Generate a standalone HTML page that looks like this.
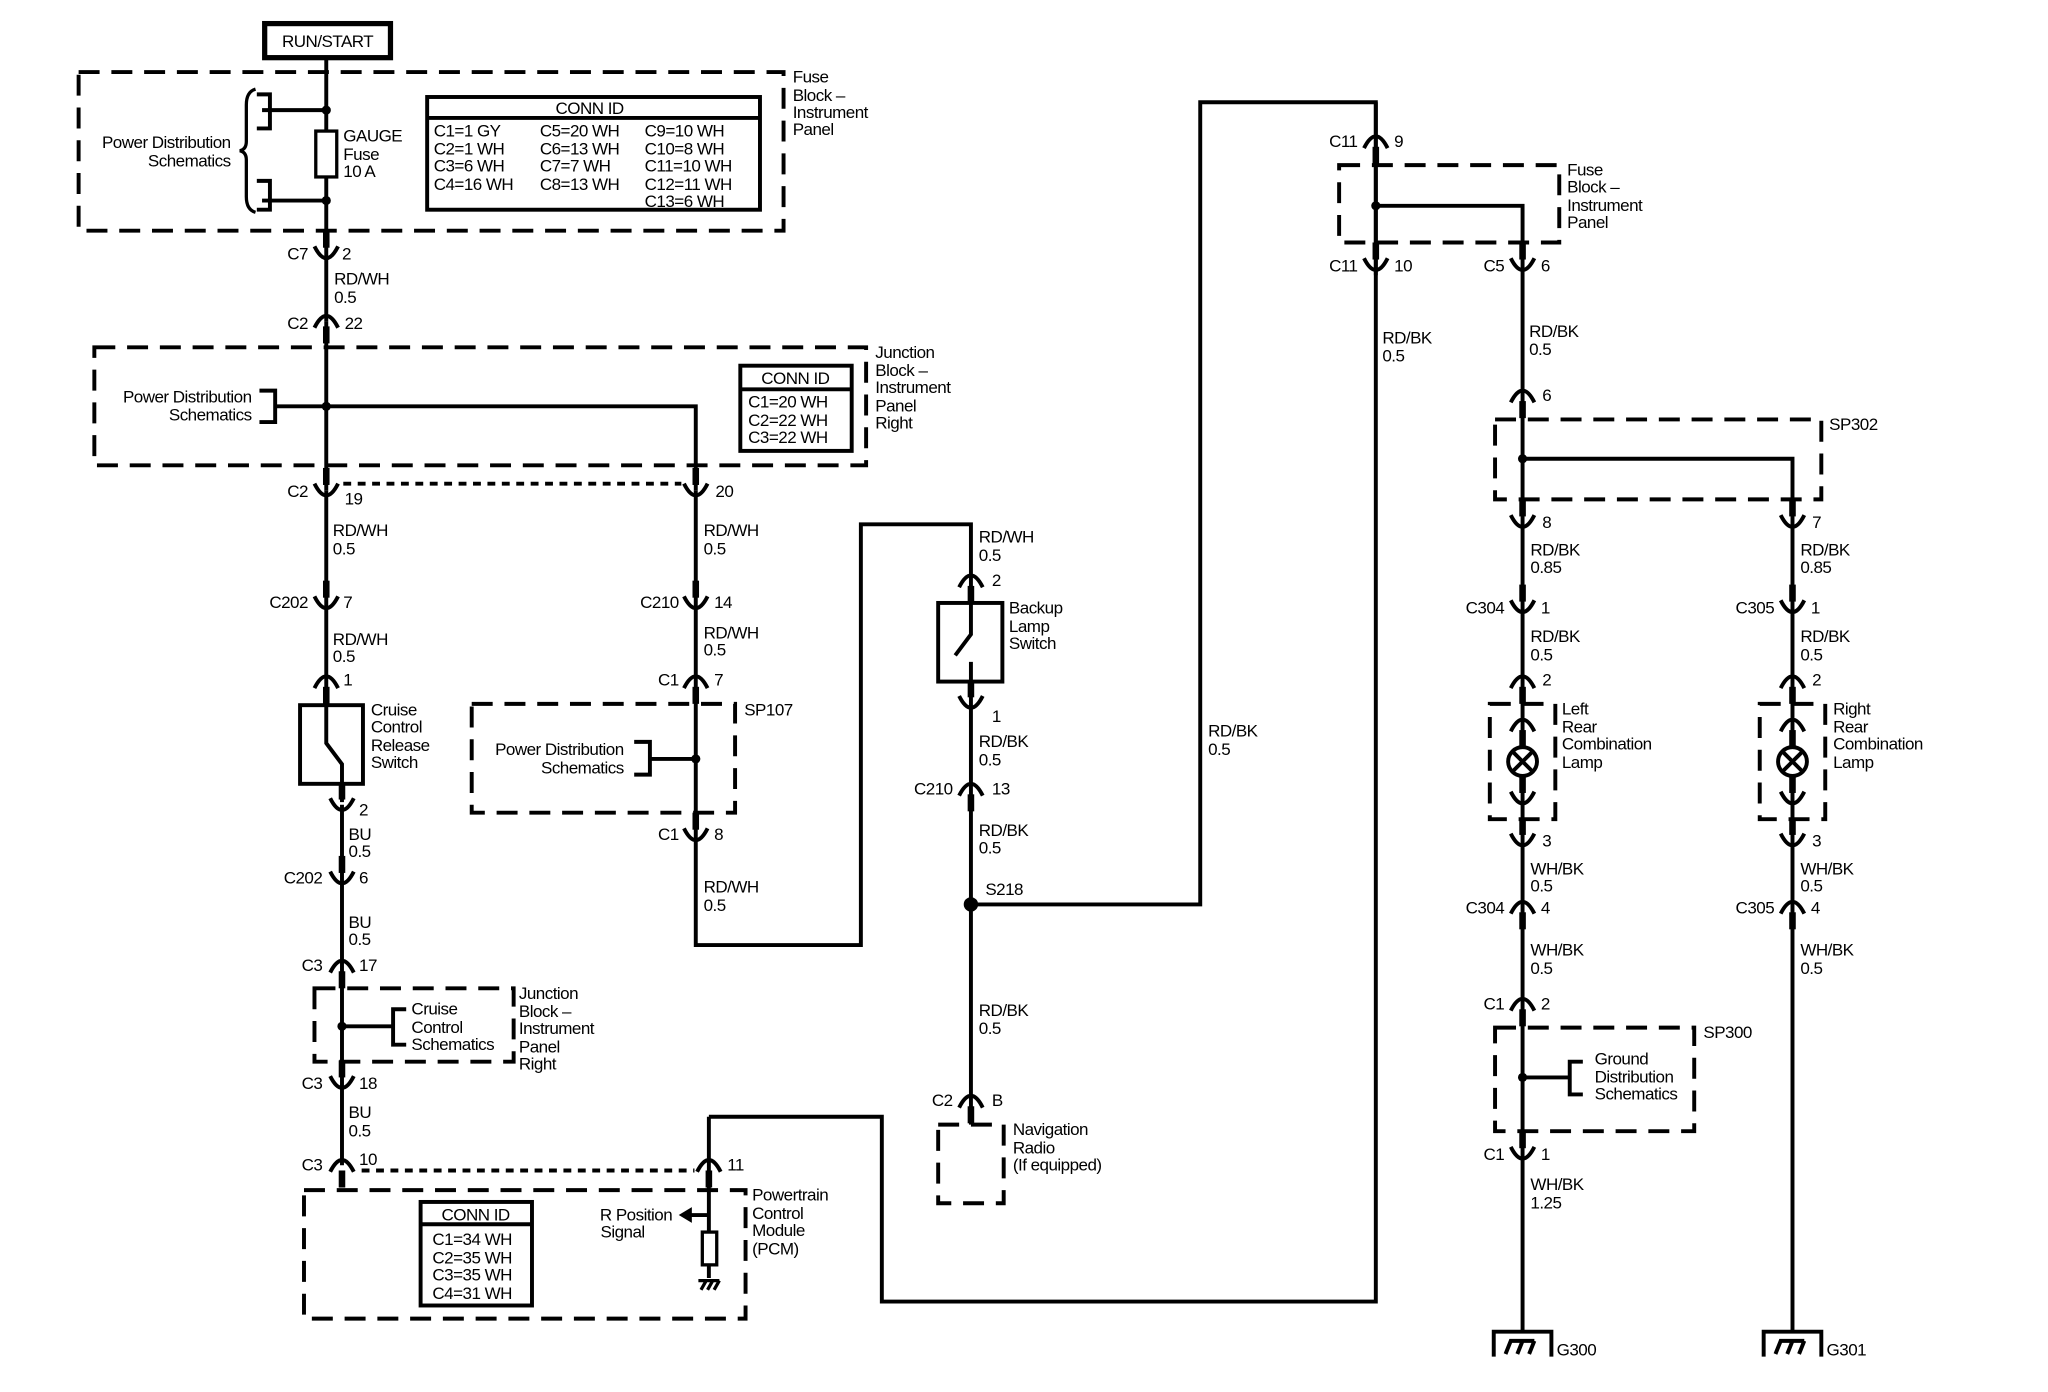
<!DOCTYPE html>
<html><head><meta charset="utf-8"><style>
html,body{margin:0;padding:0;background:#fff;}
svg{display:block;}
text{font-family:"Liberation Sans",Arial,sans-serif;font-size:13px;fill:#000;letter-spacing:-0.4px;}
.w{stroke:#000;stroke-width:3;fill:none;}
.d{stroke:#000;stroke-width:3;fill:none;stroke-dasharray:16 9;}
.th{stroke:#000;stroke-width:2.5;fill:none;}
</style></head><body>
<svg width="2048" height="1392" viewBox="0 0 1563 1062" preserveAspectRatio="none" xmlns="http://www.w3.org/2000/svg">
<defs>
<g id="U"><path d="M-9,-5 Q0,13 9,-5" stroke="#000" stroke-width="3" fill="none"/><rect x="-2.5" y="-17" width="5" height="13"/></g>
<g id="A"><path d="M-9,5 Q0,-13 9,5" stroke="#000" stroke-width="3" fill="none"/><rect x="-2.5" y="4" width="5" height="13"/></g>
</defs>

<!-- RUN/START -->
<rect x="202" y="18" width="96" height="26" fill="#fff" stroke="#000" stroke-width="4"/>
<text x="250" y="36" text-anchor="middle">RUN/START</text>

<!-- Fuse block top -->
<rect class="d" x="60" y="55" width="538" height="121"/>
<text x="605" y="63">Fuse</text><text x="605" y="77">Block –</text><text x="605" y="90">Instrument</text><text x="605" y="103">Panel</text>
<line class="w" x1="249" y1="44" x2="249" y2="100"/>
<line class="w" x1="249" y1="135" x2="249" y2="245"/>
<rect x="241" y="100" width="16" height="35" class="th"/>
<circle cx="249" cy="84" r="3.5"/><circle cx="249" cy="153" r="3.5"/>
<line class="w" x1="200" y1="84" x2="249" y2="84"/><line class="w" x1="200" y1="153" x2="249" y2="153"/>
<path class="w" d="M196,72 H206 V98 H196"/><path class="w" d="M196,138 H206 V160 H196"/>
<path class="th" d="M195,68 Q188,70 188,80 V108 Q188,114 183,115 Q188,116 188,122 V150 Q188,160 195,162"/>
<text x="176" y="113" text-anchor="end">Power Distribution</text><text x="176" y="127" text-anchor="end">Schematics</text>
<text x="262" y="108">GAUGE</text><text x="262" y="122">Fuse</text><text x="262" y="135">10 A</text>
<rect class="w" x="326" y="74" width="254" height="86"/><line class="w" x1="326" y1="90" x2="580" y2="90"/>
<text x="450" y="87" text-anchor="middle">CONN ID</text>
<text x="331" y="104">C1=1 GY</text><text x="331" y="118">C2=1 WH</text><text x="331" y="131">C3=6 WH</text><text x="331" y="145">C4=16 WH</text>
<text x="412" y="104">C5=20 WH</text><text x="412" y="118">C6=13 WH</text><text x="412" y="131">C7=7 WH</text><text x="412" y="145">C8=13 WH</text>
<text x="492" y="104">C9=10 WH</text><text x="492" y="118">C10=8 WH</text><text x="492" y="131">C11=10 WH</text><text x="492" y="145">C12=11 WH</text><text x="492" y="158">C13=6 WH</text>

<use href="#U" x="249" y="193"/><text x="235" y="198" text-anchor="end">C7</text><text x="261" y="198">2</text>
<text x="255" y="217">RD/WH</text><text x="255" y="231">0.5</text>
<use href="#A" x="249" y="245"/><text x="235" y="251" text-anchor="end">C2</text><text x="263" y="251">22</text>

<!-- Junction block -->
<rect class="d" x="72" y="265" width="589" height="90"/>
<text x="668" y="273">Junction</text><text x="668" y="287">Block –</text><text x="668" y="300">Instrument</text><text x="668" y="314">Panel</text><text x="668" y="327">Right</text>
<line class="w" x1="249" y1="245" x2="249" y2="374"/>
<text x="192" y="307" text-anchor="end">Power Distribution</text><text x="192" y="321" text-anchor="end">Schematics</text>
<path class="w" d="M198,298 H210 V322 H198"/>
<path class="w" d="M210,310 H531 V374"/>
<circle cx="249" cy="310" r="3.5"/>
<rect class="w" x="565" y="279" width="85" height="65"/><line class="w" x1="565" y1="297" x2="650" y2="297"/>
<text x="607" y="293" text-anchor="middle">CONN ID</text>
<text x="571" y="311">C1=20 WH</text><text x="571" y="325">C2=22 WH</text><text x="571" y="338">C3=22 WH</text>

<use href="#U" x="249" y="374"/><use href="#U" x="531" y="374"/>
<line x1="262" y1="369" x2="520" y2="369" stroke="#000" stroke-width="3" stroke-dasharray="6 5"/>
<text x="235" y="379" text-anchor="end">C2</text><text x="263" y="385">19</text><text x="546" y="379">20</text>

<!-- left column -->
<line class="w" x1="249" y1="374" x2="249" y2="538"/>
<text x="254" y="409">RD/WH</text><text x="254" y="423">0.5</text>
<use href="#U" x="249" y="460"/><text x="235" y="464" text-anchor="end">C202</text><text x="262" y="464">7</text>
<text x="254" y="492">RD/WH</text><text x="254" y="505">0.5</text>
<use href="#A" x="249" y="520"/><text x="262" y="523">1</text>
<rect class="w" x="229" y="538" width="48" height="60"/>
<path class="w" d="M249,538 V567 L261,583 V612"/>
<text x="283" y="546">Cruise</text><text x="283" y="559">Control</text><text x="283" y="573">Release</text><text x="283" y="586">Switch</text>
<use href="#U" x="261" y="614"/><text x="274" y="622">2</text>
<line class="w" x1="261" y1="614" x2="261" y2="889"/>
<text x="266" y="641">BU</text><text x="266" y="654">0.5</text>
<use href="#U" x="261" y="670"/><text x="246" y="674" text-anchor="end">C202</text><text x="274" y="674">6</text>
<text x="266" y="708">BU</text><text x="266" y="721">0.5</text>
<use href="#A" x="261" y="737"/><text x="246" y="741" text-anchor="end">C3</text><text x="274" y="741">17</text>
<rect class="d" x="240" y="754" width="152" height="56"/>
<circle cx="261" cy="783" r="3.5"/>
<path class="w" d="M261,783 H300"/><path class="w" d="M310,770 H300 V797 H310"/>
<text x="314" y="774">Cruise</text><text x="314" y="788">Control</text><text x="314" y="801">Schematics</text>
<text x="396" y="762">Junction</text><text x="396" y="776">Block –</text><text x="396" y="789">Instrument</text><text x="396" y="803">Panel</text><text x="396" y="816">Right</text>
<use href="#U" x="261" y="826"/><text x="246" y="831" text-anchor="end">C3</text><text x="274" y="831">18</text>
<text x="266" y="853">BU</text><text x="266" y="867">0.5</text>
<use href="#A" x="261" y="889"/><text x="246" y="893" text-anchor="end">C3</text><text x="274" y="889">10</text>
<line x1="276" y1="893" x2="530" y2="893" stroke="#000" stroke-width="3" stroke-dasharray="6 5"/>

<!-- PCM -->
<rect class="d" x="232" y="908" width="337" height="98"/>
<text x="574" y="916">Powertrain</text><text x="574" y="930">Control</text><text x="574" y="943">Module</text><text x="574" y="957">(PCM)</text>
<rect class="w" x="321" y="917" width="85" height="79"/><line class="w" x1="321" y1="934" x2="406" y2="934"/>
<text x="363" y="931" text-anchor="middle">CONN ID</text>
<text x="330" y="950">C1=34 WH</text><text x="330" y="964">C2=35 WH</text><text x="330" y="977">C3=35 WH</text><text x="330" y="991">C4=31 WH</text>
<use href="#A" x="541" y="889"/><text x="555" y="893">11</text>
<path class="w" d="M541,852 V975"/>
<rect x="536" y="940" width="11" height="25" fill="#fff" stroke="#000" stroke-width="2.5"/>
<path class="th" d="M533,977 H549 M535,984 L539,977 M540,984 L544,977 M545,984 L549,977"/>
<line class="w" x1="541" y1="927" x2="526" y2="927"/><path d="M518,927 L528,921 L528,933 Z"/>
<text x="513" y="931" text-anchor="end">R Position</text><text x="492" y="944" text-anchor="end">Signal</text>
<path class="w" d="M541,852 H673 V993 H1050 V78 H916 V690 H741"/>

<!-- middle column 531 -->
<line class="w" x1="531" y1="374" x2="531" y2="637"/>
<text x="537" y="409">RD/WH</text><text x="537" y="423">0.5</text>
<use href="#U" x="531" y="460"/><text x="518" y="464" text-anchor="end">C210</text><text x="545" y="464">14</text>
<text x="537" y="487">RD/WH</text><text x="537" y="500">0.5</text>
<use href="#A" x="531" y="520"/><text x="518" y="523" text-anchor="end">C1</text><text x="545" y="523">7</text>
<rect class="d" x="360" y="537" width="201" height="83"/>
<text x="568" y="546">SP107</text>
<circle cx="531" cy="579" r="3.5"/>
<path class="w" d="M496,579 H531"/><path class="w" d="M484,566 H496 V591 H484"/>
<text x="476" y="576" text-anchor="end">Power Distribution</text><text x="476" y="590" text-anchor="end">Schematics</text>
<use href="#U" x="531" y="637"/><text x="518" y="641" text-anchor="end">C1</text><text x="545" y="641">8</text>
<text x="537" y="681">RD/WH</text><text x="537" y="695">0.5</text>
<path class="w" d="M531,637 V721 H657 V400 H741 V460"/>

<!-- 741 column -->
<text x="747" y="414">RD/WH</text><text x="747" y="428">0.5</text>
<use href="#A" x="741" y="443"/><text x="757" y="447">2</text>
<rect class="w" x="716" y="460" width="49" height="60"/>
<path class="w" d="M741,460 V484 L729,500 M741,505 V536"/>
<text x="770" y="468">Backup</text><text x="770" y="482">Lamp</text><text x="770" y="495">Switch</text>
<use href="#U" x="741" y="536"/><text x="757" y="551">1</text>
<line class="w" x1="741" y1="536" x2="741" y2="858"/>
<text x="747" y="570">RD/BK</text><text x="747" y="584">0.5</text>
<use href="#A" x="741" y="602"/><text x="727" y="606" text-anchor="end">C210</text><text x="757" y="606">13</text>
<text x="747" y="638">RD/BK</text><text x="747" y="651">0.5</text>
<circle cx="741" cy="690" r="5.5"/><text x="752" y="683">S218</text>
<text x="747" y="775">RD/BK</text><text x="747" y="789">0.5</text>
<use href="#A" x="741" y="840"/><text x="727" y="844" text-anchor="end">C2</text><text x="757" y="844">B</text>
<rect class="d" x="716" y="858" width="50" height="60"/>
<text x="773" y="866">Navigation</text><text x="773" y="880">Radio</text><text x="773" y="893">(If equipped)</text>
<text x="922" y="562">RD/BK</text><text x="922" y="576">0.5</text>

<!-- right fuse block -->
<line class="w" x1="1050" y1="78" x2="1050" y2="210"/>
<use href="#A" x="1050" y="108"/><text x="1036" y="112" text-anchor="end">C11</text><text x="1064" y="112">9</text>
<rect class="d" x="1022" y="126" width="168" height="59"/>
<circle cx="1050" cy="157" r="3.5"/>
<path class="w" d="M1050,157 H1162 V1015"/>
<text x="1196" y="134">Fuse</text><text x="1196" y="147">Block –</text><text x="1196" y="161">Instrument</text><text x="1196" y="174">Panel</text>
<use href="#U" x="1050" y="202"/><text x="1036" y="207" text-anchor="end">C11</text><text x="1064" y="207">10</text>
<use href="#U" x="1162" y="202"/><text x="1148" y="207" text-anchor="end">C5</text><text x="1176" y="207">6</text>
<text x="1055" y="262">RD/BK</text><text x="1055" y="276">0.5</text>
<text x="1167" y="257">RD/BK</text><text x="1167" y="271">0.5</text>
<use href="#A" x="1162" y="302"/><text x="1177" y="306">6</text>
<rect class="d" x="1141" y="320" width="249" height="61"/>
<text x="1396" y="328">SP302</text>
<circle cx="1162" cy="350" r="3.5"/>
<path class="w" d="M1162,350 H1368 V1015"/>
<use href="#U" x="1162" y="398"/><text x="1177" y="403">8</text>
<use href="#U" x="1368" y="398"/><text x="1383" y="403">7</text>
<text x="1168" y="424">RD/BK</text><text x="1168" y="437">0.85</text>
<text x="1374" y="424">RD/BK</text><text x="1374" y="437">0.85</text>
<use href="#U" x="1162" y="463"/><text x="1148" y="468" text-anchor="end">C304</text><text x="1176" y="468">1</text>
<use href="#U" x="1368" y="463"/><text x="1354" y="468" text-anchor="end">C305</text><text x="1382" y="468">1</text>
<text x="1168" y="490">RD/BK</text><text x="1168" y="504">0.5</text>
<text x="1374" y="490">RD/BK</text><text x="1374" y="504">0.5</text>
<use href="#A" x="1162" y="520"/><text x="1177" y="523">2</text>
<use href="#A" x="1368" y="520"/><text x="1383" y="523">2</text>

<!-- lamps -->
<g>
<rect class="d" x="1137" y="537" width="50" height="88"/>
<use href="#A" x="1162" y="553"/><use href="#U" x="1162" y="609"/>
<circle cx="1162" cy="581" r="11" fill="#fff" stroke="#000" stroke-width="3"/>
<path class="w" d="M1154,573 L1170,589 M1170,573 L1154,589"/>
<text x="1192" y="545">Left</text><text x="1192" y="559">Rear</text><text x="1192" y="572">Combination</text><text x="1192" y="586">Lamp</text>
</g>
<g>
<rect class="d" x="1343" y="537" width="50" height="88"/>
<use href="#A" x="1368" y="553"/><use href="#U" x="1368" y="609"/>
<circle cx="1368" cy="581" r="11" fill="#fff" stroke="#000" stroke-width="3"/>
<path class="w" d="M1360,573 L1376,589 M1376,573 L1360,589"/>
<text x="1399" y="545">Right</text><text x="1399" y="559">Rear</text><text x="1399" y="572">Combination</text><text x="1399" y="586">Lamp</text>
</g>
<use href="#U" x="1162" y="641"/><text x="1177" y="646">3</text>
<use href="#U" x="1368" y="641"/><text x="1383" y="646">3</text>
<text x="1168" y="667">WH/BK</text><text x="1168" y="680">0.5</text>
<text x="1374" y="667">WH/BK</text><text x="1374" y="680">0.5</text>
<use href="#A" x="1162" y="692"/><text x="1148" y="697" text-anchor="end">C304</text><text x="1176" y="697">4</text>
<use href="#A" x="1368" y="692"/><text x="1354" y="697" text-anchor="end">C305</text><text x="1382" y="697">4</text>
<text x="1168" y="729">WH/BK</text><text x="1168" y="743">0.5</text>
<text x="1374" y="729">WH/BK</text><text x="1374" y="743">0.5</text>
<use href="#A" x="1162" y="766"/><text x="1148" y="770" text-anchor="end">C1</text><text x="1176" y="770">2</text>
<rect class="d" x="1141" y="784" width="152" height="79"/>
<text x="1300" y="792">SP300</text>
<circle cx="1162" cy="822" r="3.5"/>
<path class="w" d="M1162,822 H1198"/><path class="w" d="M1208,810 H1198 V835 H1208"/>
<text x="1217" y="812">Ground</text><text x="1217" y="826">Distribution</text><text x="1217" y="839">Schematics</text>
<use href="#U" x="1162" y="880"/><text x="1148" y="885" text-anchor="end">C1</text><text x="1176" y="885">1</text>
<text x="1168" y="908">WH/BK</text><text x="1168" y="922">1.25</text>

<!-- grounds -->
<path class="w" d="M1140,1035 V1016 H1184 V1035"/>
<path class="w" d="M1149,1033 L1153,1023 H1162 M1158,1033 L1162,1023 H1171 M1167,1033 L1171,1023"/>
<text x="1188" y="1034">G300</text>
<path class="w" d="M1346,1035 V1016 H1390 V1035"/>
<path class="w" d="M1355,1033 L1359,1023 H1368 M1364,1033 L1368,1023 H1377 M1373,1033 L1377,1023"/>
<text x="1394" y="1034">G301</text>
</svg>
</body></html>
